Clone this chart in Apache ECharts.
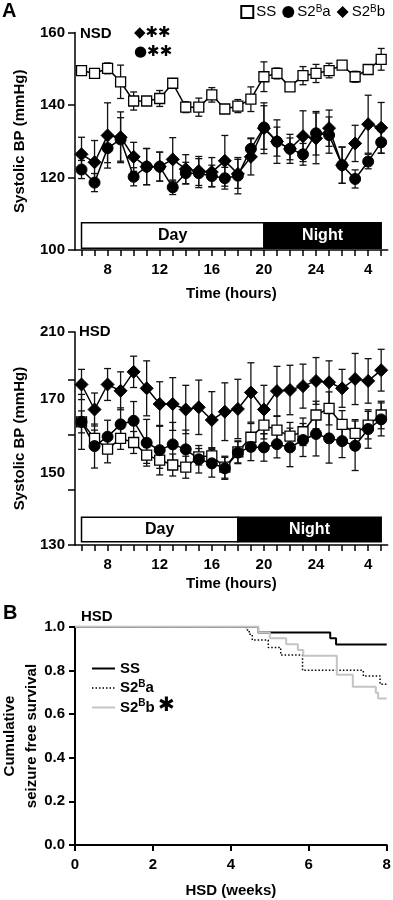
<!DOCTYPE html>
<html>
<head>
<meta charset="utf-8">
<script src="https://cdn.jsdelivr.net/npm/echarts@6/dist/echarts.min.js"></script>
<style>
html, body { margin: 0; padding: 0; background: #fff; }
#chart { width: 393px; height: 900px; }
</style>
</head>
<body>
<div id="chart"></div>
<script>
// hours of the day, 6 am to 5 am next day
var hours = [6, 7, 8, 9, 10, 11, 12, 13, 14, 15, 16, 17, 18, 19, 20, 21, 22, 23, 24, 25, 26, 27, 28, 29];
var hourTicks = [8, 12, 16, 20, 24, 28];

// NSD systolic BP (mean, sem)
var nsdSS = [149.5, 148.7, 150.1, 146.4, 141.1, 141.1, 141.8, 146.0, 139.4, 139.4, 142.8, 138.9, 139.7, 141.6, 147.8, 148.7, 145.0, 148.1, 148.7, 149.5, 151.0, 147.8, 149.8, 152.6];
var nsdSSErr = [0.8, 1.0, 1.5, 4.6, 2.5, 0.6, 2.2, 1.2, 1.5, 2.5, 2.0, 1.0, 1.8, 3.4, 4.1, 1.5, 1.0, 2.5, 2.5, 2.0, 1.0, 1.5, 1.0, 3.0];
var nsdA = [122.2, 118.6, 128.1, 130.5, 120.2, 123.0, 123.0, 117.3, 121.2, 121.2, 120.4, 119.8, 120.5, 127.9, 133.8, 129.9, 127.9, 126.4, 132.2, 131.7, 123.4, 119.6, 124.4, 129.7];
var nsdAErr = [2.5, 2.5, 4, 6, 2.5, 5, 4, 2, 3, 4, 3, 3, 5, 3, 6, 4, 4, 3, 6, 5, 5, 2.5, 2, 3];
var nsdB = [126.4, 124.2, 131.6, 131.1, 125.7, 123.0, 123.0, 125.0, 122.3, 121.8, 121.5, 124.6, 121.0, 125.7, 133.6, 129.9, 127.9, 131.4, 130.8, 133.6, 123.4, 129.4, 134.7, 133.7];
var nsdBErr = [4.7, 6, 9, 7, 4, 5, 4, 6, 4, 4, 4, 7, 4, 5, 7, 6, 3, 7, 7, 5, 5, 5, 8, 7];

// HSD systolic BP (mean, sem)
var hsdSS = [174.8, 168.8, 164.9, 168.8, 167.3, 162.7, 160.9, 159.1, 158.3, 162.1, 162.4, 158.3, 163.9, 169.2, 173.6, 171.8, 169.6, 171.2, 177.3, 179.7, 173.9, 170.6, 173.6, 177.3];
var hsdSSErr = [4, 3, 5, 4, 4, 3, 3, 4, 4, 3, 3, 4, 4, 5, 5, 5, 5, 5, 5, 6, 5, 5, 5, 5];
var hsdA = [174.8, 166.0, 169.4, 173.9, 175.2, 167.2, 164.5, 166.6, 164.8, 161.2, 159.7, 157.9, 163.6, 165.7, 165.5, 166.7, 165.5, 168.2, 170.4, 168.8, 167.8, 166.1, 172.2, 175.7];
var hsdAErr = [10, 8, 6, 6, 7, 8.5, 9, 8, 7, 5, 5, 4, 4, 5, 5, 5, 7, 6, 8, 9, 6, 9, 7, 6];
var hsdB = [188.4, 179.3, 188.4, 186.1, 193.0, 187.0, 181.3, 181.3, 179.3, 180.1, 175.5, 178.5, 179.5, 185.5, 179.3, 186.0, 186.4, 187.8, 189.7, 189.2, 187.0, 190.4, 189.7, 193.6];
var hsdBErr = [5.5, 6, 5.8, 6.9, 5.7, 10, 8.1, 9.6, 8.8, 9.9, 10.3, 10.5, 10.8, 10.8, 8.8, 9, 9, 8, 8.5, 7.8, 6.9, 9.3, 8.1, 7.6];
var hsdTickVals = [130, 150, 170, 190, 207.5];
var hsdLabelVals = [130, 156.3, 183, 207.5];
var hsdLabelText = ['130', '150', '170', '210'];

// light periods
var nsdPeriods = [[6, 20, 'Day'], [20, 29, 'Night']];
var hsdPeriods = [[6, 18, 'Day'], [18, 29, 'Night']];

// seizure free survival (Kaplan-Meier steps)
var kmSSWeeks = [0, 4.7, 6.55, 6.7, 8];
var kmSS = [1, 0.974, 0.947, 0.919, 0.919];
var kmAWeeks = [0, 4.40, 4.47, 4.55, 4.96, 5.28, 5.84, 7.40, 7.83, 8];
var kmA = [1, 0.985, 0.965, 0.939, 0.905, 0.87, 0.80, 0.774, 0.736, 0.736];
var kmBWeeks = [0, 4.7, 5.0, 5.42, 5.72, 5.86, 6.72, 7.13, 7.72, 7.78, 8];
var kmB = [1, 0.974, 0.947, 0.92, 0.893, 0.867, 0.78, 0.725, 0.697, 0.671, 0.671];

var FONT = '"Liberation Sans", Arial, sans-serif';
var GRAY = '#c4c4c4';

function pairs(xs, ys) {
  var out = [];
  for (var i = 0; i < xs.length; i++) out.push([xs[i], ys[i]]);
  return out;
}
function errData(xs, ys, es) {
  var out = [];
  for (var i = 0; i < xs.length; i++) out.push([xs[i], ys[i] - es[i], ys[i] + es[i]]);
  return out;
}

function renderErr(params, api) {
  var x = api.value(0);
  var lo = api.coord([x, api.value(1)]);
  var hi = api.coord([x, api.value(2)]);
  var w = 3.5;
  var st = { stroke: '#111', lineWidth: 1.3 };
  return {
    type: 'group',
    children: [
      { type: 'line', shape: { x1: lo[0], y1: lo[1], x2: hi[0], y2: hi[1] }, style: st },
      { type: 'line', shape: { x1: lo[0] - w, y1: lo[1], x2: lo[0] + w, y2: lo[1] }, style: st },
      { type: 'line', shape: { x1: hi[0] - w, y1: hi[1], x2: hi[0] + w, y2: hi[1] }, style: st }
    ]
  };
}

function errSeries(idx, xs, ys, es) {
  return {
    name: 'err' + idx, type: 'custom', xAxisIndex: idx, yAxisIndex: idx,
    renderItem: renderErr, data: errData(xs, ys, es), z: 1, silent: true
  };
}

function periodSeries(idx, periods, y0, y1) {
  return {
    type: 'custom', xAxisIndex: idx, yAxisIndex: idx, z: 5, silent: true,
    data: periods,
    renderItem: function (params, api) {
      var a = api.coord([api.value(0), y1]);
      var b = api.coord([api.value(1), y0]);
      var night = params.dataIndex === 1;
      return {
        type: 'group',
        children: [
          { type: 'rect', shape: { x: a[0], y: a[1], width: b[0] - a[0], height: b[1] - a[1] },
            style: { fill: night ? '#000' : '#fff', stroke: '#000', lineWidth: 1.5 } },
          { type: 'text', style: { text: periods[params.dataIndex][2], x: (a[0] + b[0]) / 2, y: (a[1] + b[1]) / 2,
            align: 'center', verticalAlign: 'middle', fill: night ? '#fff' : '#000',
            font: 'bold 16px ' + FONT } }
        ]
      };
    }
  };
}

function bpSeries(idx, ss, a, b) {
  var base = { type: 'line', xAxisIndex: idx, yAxisIndex: idx, lineStyle: { color: '#000', width: 1.5 }, z: 3 };
  return [
    Object.assign({}, base, { name: 'SS', symbol: 'rect', symbolSize: 10, data: pairs(hours, ss),
      itemStyle: { color: '#fff', borderColor: '#000', borderWidth: 1.3 } }),
    Object.assign({}, base, { name: 'S2Bb', symbol: 'diamond', symbolSize: 13, data: pairs(hours, b),
      itemStyle: { color: '#000', borderColor: '#000' } }),
    Object.assign({}, base, { name: 'S2Ba', symbol: 'circle', symbolSize: 11, data: pairs(hours, a),
      itemStyle: { color: '#000', borderColor: '#000' } })
  ];
}

var axisTxt = { color: '#000', fontWeight: 'bold', fontSize: 15, fontFamily: FONT };
var lineA = { show: true, onZero: false, lineStyle: { color: '#000', width: 1.5 } };

function hourAxis(idx, gap) {
  return {
    type: 'value', gridIndex: idx, min: 5.5, max: 29.5,
    axisLine: lineA,
    axisTick: { show: true, customValues: hours, length: 6, lineStyle: { color: '#000', width: 1.5 } },
    axisLabel: Object.assign({ customValues: hourTicks, margin: 12,
      formatter: function (v) { return v > 24 ? String(v - 24) : String(v); } }, axisTxt),
    splitLine: { show: false },
    name: 'Time (hours)', nameLocation: 'middle', nameGap: gap, nameTextStyle: axisTxt
  };
}

var supRich = {
  n: { fontSize: 15, fontFamily: FONT, color: '#000', lineHeight: 16 },
  s: { fontSize: 10, fontFamily: FONT, color: '#000', verticalAlign: 'top', lineHeight: 16, padding: [0, 0, 6, 0] },
  nb: { fontSize: 15, fontWeight: 'bold', fontFamily: FONT, color: '#000', lineHeight: 18 },
  sb: { fontSize: 10, fontWeight: 'bold', fontFamily: FONT, color: '#000', verticalAlign: 'top', lineHeight: 18, padding: [0, 0, 7, 0] },
  ast: { fontSize: 20, fontFamily: FONT, color: '#000', lineHeight: 18, padding: [0, 0, 4, 0] },
  m: { fontSize: 15, fontFamily: 'DejaVu Sans', color: '#000', lineHeight: 18 },
  st: { fontSize: 15, fontFamily: 'DejaVu Sans', color: '#000', lineHeight: 18 }
};

// legend for the survival panel (lines + labels)
var kmLegend = [
  { label: '{nb|SS}', stroke: '#000', width: 2, dash: null },
  { label: '{nb|S2}{sb|B}{nb|a}', stroke: '#000', width: 1.5, dash: [1.5, 2] },
  { label: '{nb|S2}{sb|B}{nb|b} {ast|✱}', stroke: GRAY, width: 2, dash: null }
];
var kmLegendGraphic = [];
kmLegend.forEach(function (it, i) {
  var y = 668.5 + i * 19.5;
  kmLegendGraphic.push({ type: 'line', shape: { x1: 92, y1: y, x2: 115, y2: y },
    style: { stroke: it.stroke, lineWidth: it.width, lineDash: it.dash } });
  kmLegendGraphic.push({ type: 'text', x: 120, y: y, style: { text: it.label, rich: supRich, verticalAlign: 'middle' } });
});

var option = {
  animation: false,
  backgroundColor: '#fff',
  textStyle: { fontFamily: FONT },
  grid: [
    { left: 75, top: 32.5, width: 312.7, height: 217.5, outerBoundsMode: 'none', containLabel: false },
    { left: 75, top: 332, width: 312.7, height: 213, outerBoundsMode: 'none', containLabel: false },
    { left: 75, top: 626.7, width: 311.7, height: 218.3, outerBoundsMode: 'none', containLabel: false }
  ],
  legend: {
    right: 8, top: 4, itemGap: 6, itemWidth: 12, itemHeight: 12, padding: 0,
    data: [{ name: 'SS', icon: 'rect' }, { name: 'S2Ba', icon: 'circle' }, { name: 'S2Bb', icon: 'diamond' }],
    formatter: function (n) { return n === 'SS' ? '{n|SS}' : '{n|S2}{s|B}{n|' + n.slice(3) + '}'; },
    textStyle: { rich: supRich, padding: [0, 0, 0, -2] }
  },
  xAxis: [
    hourAxis(0, 36),
    hourAxis(1, 31),
    {
      type: 'value', gridIndex: 2, min: 0, max: 8, interval: 2,
      axisLine: { show: true, onZero: false, lineStyle: { color: '#000', width: 2 } },
      axisTick: { show: true, length: 6, lineStyle: { color: '#000', width: 2 } },
      axisLabel: Object.assign({ margin: 12 }, axisTxt),
      splitLine: { show: false },
      name: 'HSD (weeks)', nameLocation: 'middle', nameGap: 38, nameTextStyle: axisTxt
    }
  ],
  yAxis: [
    {
      type: 'value', gridIndex: 0, min: 100, max: 160, interval: 20,
      axisLine: lineA,
      axisTick: { show: true, length: 7, lineStyle: { color: '#000', width: 1.5 } },
      axisLabel: Object.assign({ margin: 10 }, axisTxt),
      splitLine: { show: false },
      name: 'Systolic BP (mmHg)', nameLocation: 'middle', nameGap: 48, nameTextStyle: axisTxt
    },
    {
      type: 'value', gridIndex: 1, min: 130, max: 207.5,
      axisLine: lineA,
      axisTick: { show: true, customValues: hsdTickVals, length: 7, lineStyle: { color: '#000', width: 1.5 } },
      axisLabel: Object.assign({ margin: 10, customValues: hsdLabelVals,
        formatter: function (v) {
          for (var i = 0; i < hsdLabelVals.length; i++) if (Math.abs(hsdLabelVals[i] - v) < 0.01) return hsdLabelText[i];
          return '';
        } }, axisTxt),
      splitLine: { show: false },
      name: 'Systolic BP (mmHg)', nameLocation: 'middle', nameGap: 48, nameTextStyle: axisTxt
    },
    {
      type: 'value', gridIndex: 2, min: 0, max: 1, interval: 0.2,
      axisLine: { show: true, onZero: false, lineStyle: { color: '#000', width: 2 } },
      axisTick: { show: true, length: 6, lineStyle: { color: '#000', width: 2 } },
      axisLabel: Object.assign({ margin: 10, formatter: function (v) { return v.toFixed(1); } }, axisTxt),
      splitLine: { show: false }
    }
  ],
  graphic: [
    { type: 'text', left: 2, top: 1, style: { text: 'A', font: 'bold 20px ' + FONT, fill: '#000' } },
    { type: 'text', left: 3, top: 603, style: { text: 'B', font: 'bold 20px ' + FONT, fill: '#000' } },
    { type: 'text', left: 80, top: 26, style: { text: 'NSD', font: 'bold 15px ' + FONT, fill: '#000' } },
    { type: 'text', left: 134, top: 26, style: { text: '{m|◆}{st|✱✱}', rich: supRich } },
    { type: 'text', left: 134, top: 45, style: { text: '{m|●}{st|✱✱}', rich: supRich } },
    { type: 'text', left: 79, top: 324, style: { text: 'HSD', font: 'bold 15px ' + FONT, fill: '#000' } },
    { type: 'text', left: 81, top: 609, style: { text: 'HSD', font: 'bold 15px ' + FONT, fill: '#000' } },
    { type: 'text', x: 21, y: 736, rotation: Math.PI / 2,
      style: { text: 'Cumulative\nseizure free survival', font: 'bold 15px ' + FONT, fill: '#000',
        align: 'center', verticalAlign: 'middle', lineHeight: 22 } }
  ].concat(kmLegendGraphic),
  series: [].concat(
    [errSeries(0, hours, nsdSS, nsdSSErr), errSeries(0, hours, nsdA, nsdAErr), errSeries(0, hours, nsdB, nsdBErr)],
    bpSeries(0, nsdSS, nsdA, nsdB),
    [periodSeries(0, nsdPeriods, 100.5, 107.5)],
    [errSeries(1, hours, hsdSS, hsdSSErr), errSeries(1, hours, hsdA, hsdAErr), errSeries(1, hours, hsdB, hsdBErr)],
    bpSeries(1, hsdSS, hsdA, hsdB),
    [periodSeries(1, hsdPeriods, 131.2, 140.1)],
    [
      { name: 'SS_km', type: 'line', xAxisIndex: 2, yAxisIndex: 2, step: 'end', symbol: 'none',
        data: pairs(kmSSWeeks, kmSS), lineStyle: { color: '#000', width: 2 } },
      { name: 'S2Ba_km', type: 'line', xAxisIndex: 2, yAxisIndex: 2, step: 'end', symbol: 'none',
        data: pairs(kmAWeeks, kmA), lineStyle: { color: '#000', width: 1.5, type: [1.5, 2] } },
      { name: 'S2Bb_km', type: 'line', xAxisIndex: 2, yAxisIndex: 2, step: 'end', symbol: 'none',
        data: pairs(kmBWeeks, kmB), lineStyle: { color: GRAY, width: 2 } }
    ]
  )
};

var chart = echarts.init(document.getElementById('chart'));
chart.setOption(option);
</script>
</body>
</html>
